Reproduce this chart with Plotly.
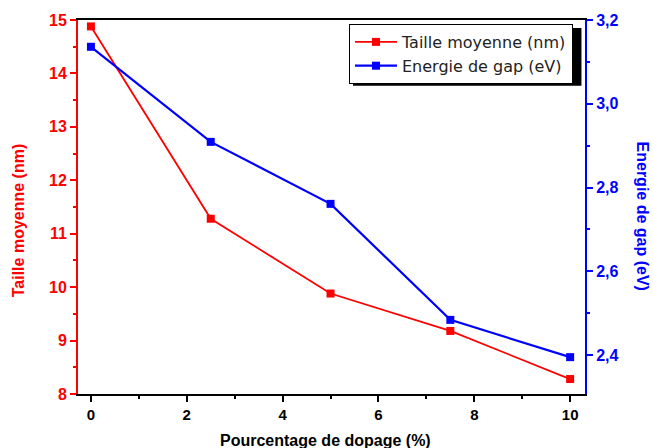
import plotly.graph_objects as go

dopage = [0, 2.5, 5, 7.5, 10]
taille = [14.88, 11.28, 9.88, 9.18, 8.28]
gap = [3.136, 2.909, 2.761, 2.484, 2.395]

RED = "#ff0000"
BLUE = "#0000ff"
FONT = "Liberation Sans, Arial, sans-serif"

fig = go.Figure()
fig.add_trace(go.Scatter(
    x=dopage, y=taille, name="Taille moyenne (nm)", mode="lines+markers",
    line=dict(color=RED, width=1.8), marker=dict(symbol="square", size=8, color=RED),
    yaxis="y"))
fig.add_trace(go.Scatter(
    x=dopage, y=gap, name="Energie de gap (eV)", mode="lines+markers",
    line=dict(color=BLUE, width=2.2), marker=dict(symbol="square", size=8, color=BLUE),
    yaxis="y2"))

fig.update_layout(
    width=653, height=448,
    margin=dict(l=78, r=68, t=20, b=54, autoexpand=False),
    paper_bgcolor="white", plot_bgcolor="white",
    separators=", ",
    font=dict(family=FONT),
    showlegend=True,
    legend=dict(
        x=0.5345, y=0.9893, xanchor="left", yanchor="top",
        bgcolor="white", bordercolor="black", borderwidth=1,
        font=dict(size=16, color="#222222", family="DejaVu Sans"),
        tracegroupgap=0, itemwidth=42,
    ),
    xaxis=dict(
        range=[-0.27, 10.31], tickvals=[0, 2, 4, 6, 8, 10],
        showgrid=False, zeroline=False, automargin=False,
        showline=True, linecolor="black", linewidth=2, mirror=True,
        ticks="outside", ticklen=6, tickwidth=2, tickcolor="black",
        minor=dict(dtick=1, ticks="outside", ticklen=3, tickwidth=2, tickcolor="black"),
        tickfont=dict(size=15, color="black", family=FONT, weight="bold"),
    ),
    yaxis=dict(
        range=[8, 15], dtick=1,
        showgrid=False, zeroline=False, automargin=False,
        showline=True, linecolor=RED, linewidth=2,
        ticks="outside", ticklen=6, tickwidth=2, tickcolor=RED,
        minor=dict(dtick=0.5, ticks="outside", ticklen=3, tickwidth=2, tickcolor=RED),
        tickfont=dict(size=16, color=RED, family=FONT, weight="bold"),
    ),
    yaxis2=dict(
        range=[2.307, 3.2], tickvals=[2.4, 2.6, 2.8, 3.0, 3.2], tickformat=".1f",
        overlaying="y", side="right", anchor="x", automargin=False,
        showgrid=False, zeroline=False,
        showline=True, linecolor=BLUE, linewidth=2,
        ticks="outside", ticklen=6, tickwidth=2, tickcolor=BLUE,
        minor=dict(dtick=0.1, ticks="outside", ticklen=3, tickwidth=2, tickcolor=BLUE),
        tickfont=dict(size=16, color=BLUE, family=FONT, weight="bold"),
    ),
)

# axis titles
fig.add_annotation(text="<b>Pourcentage de dopage (%)</b>", xref="paper", yref="paper",
                   x=0.4872, y=-0.123, xanchor="center", yanchor="middle", showarrow=False,
                   font=dict(size=16, color="black", family=FONT))
fig.add_annotation(text="<b>Taille moyenne (nm)</b>", xref="paper", yref="paper",
                   x=-0.118, y=0.465, xanchor="center", yanchor="middle", showarrow=False,
                   textangle=-90, font=dict(size=16, color=RED, family=FONT))
fig.add_annotation(text="<b>Energie de gap (eV)</b>", xref="paper", yref="paper",
                   x=1.114, y=0.475, xanchor="center", yanchor="middle", showarrow=False,
                   textangle=90, font=dict(size=16, color=BLUE, family=FONT))

# legend shadow
fig.add_shape(type="rect", xref="paper", yref="paper",
              x0=0.5424, x1=0.993, y0=0.824, y1=0.9786,
              fillcolor="black", line=dict(width=0), layer="above")

fig.write_html("out.html", config={"displayModeBar": False},
               post_script="document.body.style.margin='0';")
